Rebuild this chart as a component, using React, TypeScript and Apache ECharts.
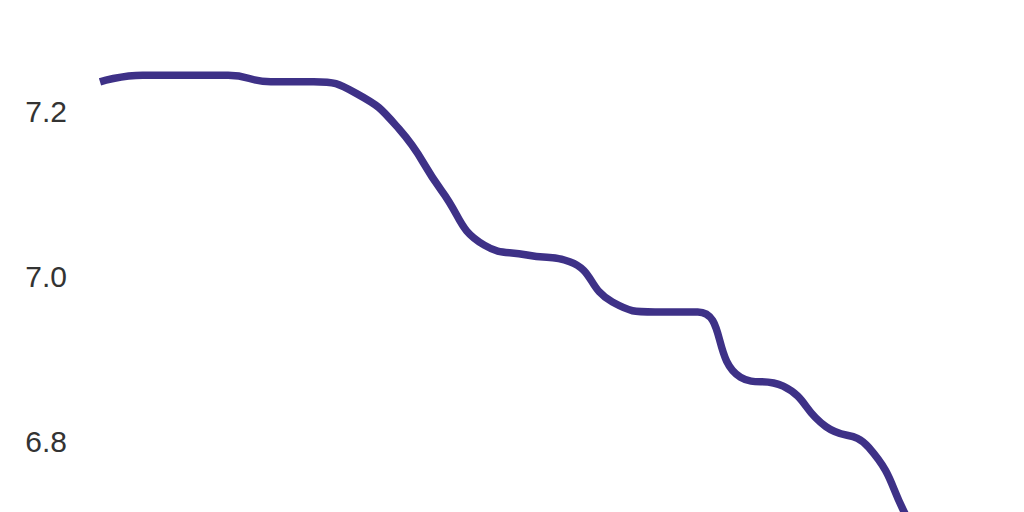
import React, { useEffect, useRef } from "react";
import * as echarts from "echarts";

const categories = [
  "1", "2", "3", "4", "5", "6", "7", "8", "9", "10", "11",
  "12", "13", "14", "15", "16", "17", "18", "19", "20", "21", "22",
];
const values = [
  7.236, 7.244, 7.244, 7.244, 7.236, 7.236, 7.222, 7.179, 7.104, 7.038, 7.026,
  7.018, 6.969, 6.957, 6.957, 6.878, 6.867, 6.818, 6.793, 6.699, 6.62, 6.58,
];
const yMin = 6.6;
const yMax = 7.4;
const yStep = 0.2;

export default function App() {
  const ref = useRef<HTMLDivElement>(null);
  useEffect(() => {
    if (!ref.current) return;
    const chart = echarts.init(ref.current, undefined, { renderer: "svg" });
    chart.setOption({
      animation: false,
      backgroundColor: "#ffffff",
      grid: { left: 100, right: 27.3, top: 46.5, bottom: 93.5 },
      xAxis: {
        type: "category",
        data: categories,
        boundaryGap: false,
        show: false,
      },
      yAxis: {
        type: "value",
        min: yMin,
        max: yMax,
        interval: yStep,
        axisLine: { show: false },
        axisTick: { show: false },
        splitLine: { show: false },
        axisLabel: {
          margin: 33,
          color: "#333333",
          fontSize: 30,
          showMinLabel: false,
          showMaxLabel: false,
          fontFamily: "Liberation Sans, Arial, sans-serif",
          formatter: (v: number) => v.toFixed(1),
        },
      },
      series: [
        {
          type: "line",
          data: values,
          smooth: true,
          showSymbol: false,
          symbol: "none",
          lineStyle: { color: "#3e3187", width: 7.5 },
          clip: true,
        },
      ],
    });
    return () => chart.dispose();
  }, []);
  return (
    <div
      style={{
        position: "fixed",
        left: 0,
        top: 0,
        width: 1024,
        height: 512,
        overflow: "hidden",
        background: "#ffffff",
      }}
    >
      <div
        ref={ref}
        style={{ position: "absolute", left: 0, top: -100, width: 1024, height: 800 }}
      />
    </div>
  );
}
